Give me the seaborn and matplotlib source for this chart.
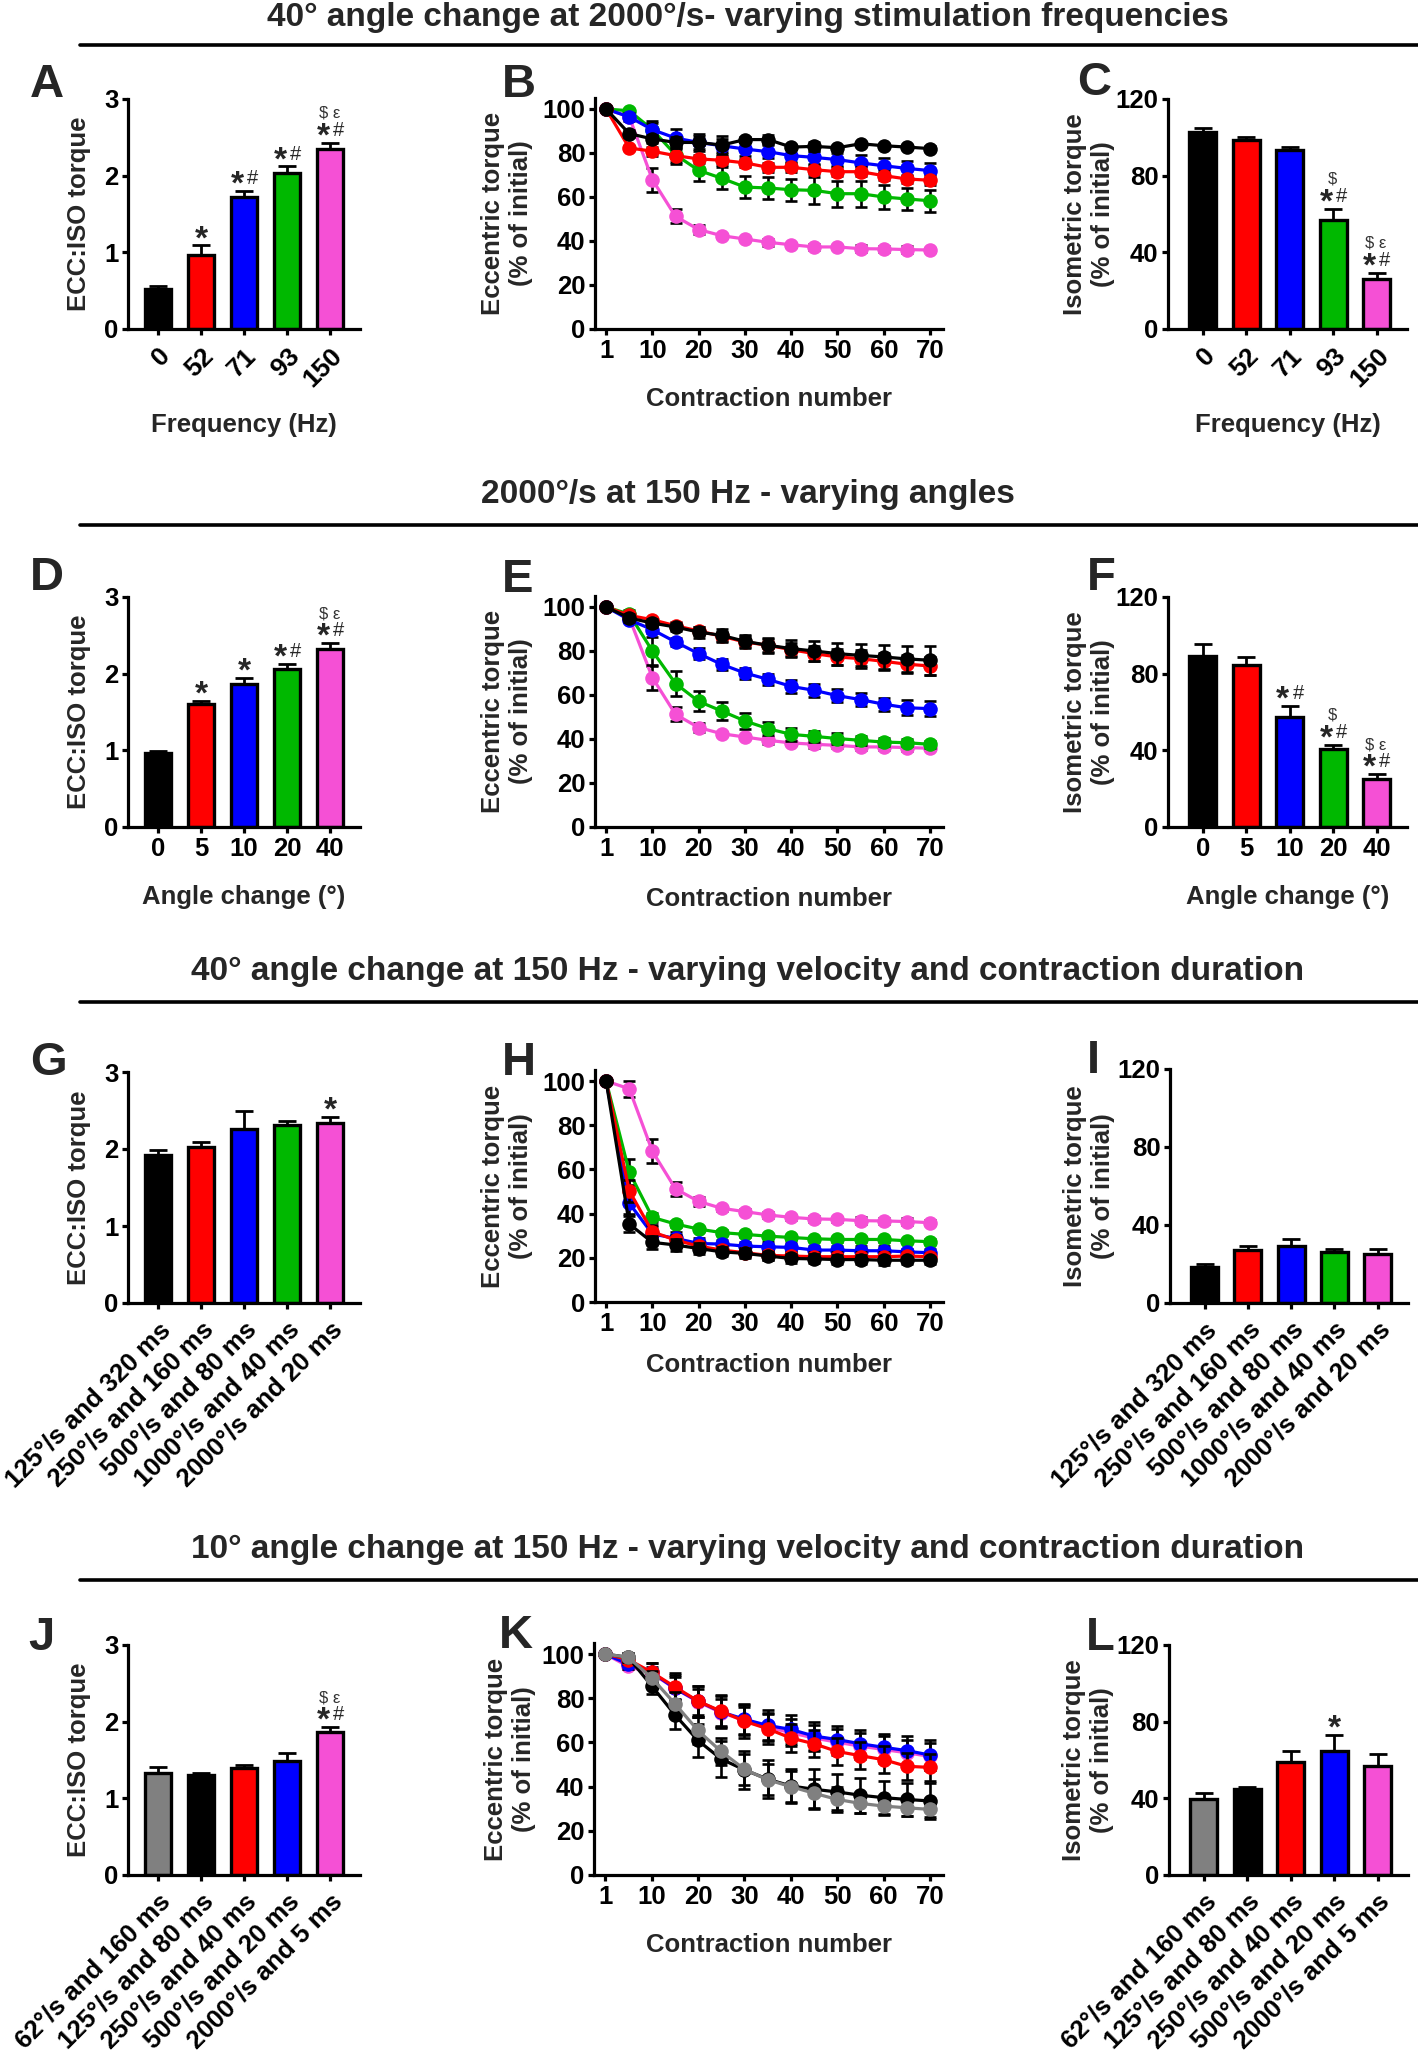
import numpy as np
import pandas as pd
import seaborn as sns
import matplotlib
matplotlib.use("Agg")
import matplotlib.pyplot as plt
from matplotlib.lines import Line2D

# figure size in pixels (saved at 100 dpi)
W, H = 1418, 2052

BLACK = "#000000"
RED = "#ff0000"
BLUE = "#0000ff"
GREEN = "#00b800"
PINK = "#f550d5"
GREY = "#808080"

# ---------------- data ----------------
freq_labels = ["0", "52", "71", "93", "150"]
angle_labels = ["0", "5", "10", "20", "40"]
vel_labels_g = ["125°/s and 320 ms", "250°/s and 160 ms", "500°/s and 80 ms",
                "1000°/s and 40 ms", "2000°/s and 20 ms"]
vel_labels_j = ["62°/s and 160 ms", "125°/s and 80 ms", "250°/s and 40 ms",
                "500°/s and 20 ms", "2000°/s and 5 ms"]
colors5 = [BLACK, RED, BLUE, GREEN, PINK]
colors_j = [GREY, BLACK, RED, BLUE, PINK]

# contraction positions (first point is contraction 1, drawn at 0)
contraction_pos = [0, 5, 10, 15, 20, 25, 30, 35, 40, 45, 50, 55, 60, 65, 70]
contraction_ticks = [0, 10, 20, 30, 40, 50, 60, 70]
contraction_ticklabels = ["1", "10", "20", "30", "40", "50", "60", "70"]

# A - ECC:ISO, stimulation frequency
a_ratio = [0.52, 0.96, 1.72, 2.03, 2.35]
a_err = [0.045, 0.13, 0.08, 0.09, 0.08]
a_sig = ["", "*", "*#", "*#", "*#"]
a_sig2 = ["", "", "", "", "$ ε"]

# B - eccentric torque, stimulation frequency
b_black = [100, 88.8, 86.4, 84.8, 84.8, 83.6, 86.1, 86.1, 82.7, 83.0, 82.4, 84.2, 83.3, 82.7, 82.0]
b_black_err = [0, 1.5, 2, 2.5, 3, 4, 1, 2, 1, 2, 1, 1, 1, 1, 1]
b_red = [100, 82.3, 80.8, 78.8, 77.3, 76.7, 75.5, 73.5, 73.5, 72.4, 71.5, 71.5, 69.7, 68.2, 67.6]
b_red_err = [0, 1, 2, 3, 2, 2, 2, 2, 2, 2, 2, 2, 2, 2, 2]
b_blue = [100, 96.4, 90.6, 86.8, 84.8, 83.3, 81.8, 80.6, 78.8, 78.0, 77.0, 75.5, 74.2, 73.0, 72.0]
b_blue_err = [0, 2, 3, 4, 4, 3, 3, 3, 3, 3, 3, 3.5, 3.5, 3.5, 3.5]
b_green = [100, 99.2, 90.6, 79.2, 72.1, 68.5, 64.5, 64.1, 63.3, 63.0, 61.5, 61.5, 60.0, 59.1, 58.3]
b_green_err = [0, 1, 4, 4, 5, 5, 5, 5, 5, 6, 6, 6, 5.5, 5, 5]
b_pink = [100, 96.5, 67.9, 51.2, 45.2, 42.4, 40.9, 39.4, 38.3, 37.3, 37.3, 36.5, 36.4, 36.1, 35.9]
b_pink_err = [0, 1, 5.5, 3.2, 2, 1, 1, 1.5, 1, 1.5, 1, 1.5, 1.5, 1.5, 1]

# C - isometric torque, stimulation frequency
c_iso = [103.0, 98.8, 93.6, 56.7, 26.3]
c_err = [1.7, 1.5, 1.2, 6.1, 3.1]
c_sig = ["", "", "", "*#", "*#"]
c_sig2 = ["", "", "", "$", "$ ε"]

# D - ECC:ISO, angle change
d_ratio = [0.97, 1.60, 1.87, 2.06, 2.32]
d_err = [0.02, 0.04, 0.07, 0.07, 0.08]
d_sig = ["", "*", "*", "*#", "*#"]
d_sig2 = ["", "", "", "", "$ ε"]

# E - eccentric torque, angle change
e_black = [100, 95.0, 92.7, 90.9, 88.6, 87.1, 84.4, 82.6, 81.1, 80.0, 78.8, 78.0, 77.3, 76.4, 75.8]
e_black_err = [0, 2, 2, 2, 2.5, 3, 3, 3.5, 4, 4.5, 5, 5, 5.5, 6, 6.5]
e_red = [100, 96.2, 94.2, 91.5, 89.1, 86.7, 84.1, 82.6, 80.6, 78.8, 77.3, 76.5, 75.3, 74.0, 73.2]
e_red_err = [0, 1, 1, 1.5, 2, 2, 2.5, 3, 3, 3.5, 3.5, 4, 4, 4, 4]
e_blue = [100, 94.2, 89.7, 84.1, 78.8, 73.9, 70.0, 67.1, 63.9, 62.1, 59.7, 57.9, 55.8, 54.2, 53.8]
e_blue_err = [0, 1, 1.5, 2, 2.5, 2.5, 2.5, 2.5, 3, 3, 3, 3, 3, 3.5, 3.5]
e_green = [100, 96.8, 80.0, 65.2, 57.1, 52.7, 48.2, 44.7, 42.1, 41.2, 40.2, 39.4, 38.6, 38.3, 37.6]
e_green_err = [0, 2, 6.5, 5.5, 4.5, 4, 3.5, 3, 3, 2.5, 2.5, 2, 2, 1.5, 1.5]
e_pink = [100, 95.2, 67.9, 51.2, 45.2, 42.4, 40.9, 39.4, 38.2, 37.6, 37.1, 36.4, 36.4, 36.1, 35.8]
e_pink_err = [0, 1, 5.5, 3.2, 2, 1, 1, 1.5, 1, 1.5, 1, 1.5, 1.5, 1.5, 1]

# F - isometric torque, angle change
f_iso = [89.3, 84.4, 57.2, 40.5, 25.1]
f_err = [6.3, 4.2, 5.9, 2.4, 2.5]
f_sig = ["", "", "*#", "*#", "*#"]
f_sig2 = ["", "", "", "$", "$ ε"]

# G - ECC:ISO, velocity (40 deg)
g_ratio = [1.92, 2.03, 2.26, 2.31, 2.34]
g_err = [0.07, 0.06, 0.24, 0.05, 0.08]
g_sig = ["", "", "", "", "*"]
g_sig2 = ["", "", "", "", ""]

# H - eccentric torque, velocity (40 deg)
h_pink = [100, 96.5, 68.2, 51.2, 45.5, 42.4, 40.9, 39.4, 38.3, 37.6, 37.4, 36.8, 36.7, 36.4, 35.9]
h_pink_err = [0, 3.5, 5.5, 3, 2, 1, 1, 1.5, 1, 1.5, 1, 1.5, 1.5, 1.5, 1]
h_green = [100, 58.8, 38.3, 35.3, 33.0, 31.4, 30.6, 29.8, 29.2, 28.6, 28.3, 28.3, 28.3, 27.7, 27.3]
h_green_err = [0, 6, 2, 1.5, 1, 1, 1, 1, 1, 1, 1, 1, 1, 1, 1]
h_blue = [100, 44.7, 30.8, 28.8, 26.5, 26.2, 25.3, 25.0, 24.7, 23.5, 23.5, 23.2, 23.2, 22.7, 22.3]
h_blue_err = [0, 5, 3, 3, 2.5, 2, 2, 2, 2, 2, 2, 2, 2, 1.5, 1.5]
h_red = [100, 50.3, 31.8, 28.0, 25.3, 23.5, 22.3, 21.1, 20.8, 20.5, 20.5, 20.5, 20.5, 20.8, 20.5]
h_red_err = [0, 5, 3, 2.5, 2, 2, 2, 2, 2, 2, 2, 2, 2, 2, 1.5]
h_black = [100, 35.3, 27.0, 25.8, 24.2, 22.7, 22.0, 20.8, 19.7, 19.5, 19.2, 19.2, 18.9, 18.9, 18.9]
h_black_err = [0, 3.5, 3, 2.5, 2.5, 2, 2, 2, 2, 2, 2, 2, 2, 1.5, 1.5]

# I - isometric torque, velocity (40 deg)
i_iso = [18.5, 27.1, 29.1, 26.1, 25.0]
i_err = [1.7, 2.0, 3.5, 1.7, 2.6]

# J - ECC:ISO, velocity (10 deg)
j_ratio = [1.33, 1.30, 1.40, 1.49, 1.87]
j_err = [0.08, 0.03, 0.03, 0.10, 0.06]
j_sig = ["", "", "", "", "*#"]
j_sig2 = ["", "", "", "", "$ ε"]

# K - eccentric torque, velocity (10 deg)
k_pink = [100, 94.4, 91.3, 84.5, 78.4, 73.5, 70.0, 67.0, 64.4, 62.0, 60.1, 58.3, 56.8, 55.3, 53.7]
k_pink_err = [0, 1, 3, 5, 6, 6, 6, 6, 6, 6, 6, 6, 6, 6, 6]
k_blue = [100, 95.4, 91.8, 84.5, 78.7, 73.8, 70.5, 67.7, 65.9, 62.9, 61.3, 59.4, 57.8, 56.3, 54.3]
k_blue_err = [0, 2, 4, 6, 7, 7, 7, 7, 6.5, 6.5, 6, 6, 6, 6.5, 7]
k_red = [100, 97.5, 91.8, 85.2, 78.7, 74.1, 69.6, 66.2, 62.0, 59.4, 55.9, 54.0, 52.2, 49.2, 48.7]
k_red_err = [0, 2, 4, 6, 7, 7.5, 7.5, 7, 6.5, 6, 6, 6, 6, 6, 6]
k_black = [100, 98.5, 85.7, 72.6, 60.9, 52.5, 47.6, 43.4, 40.3, 38.8, 37.6, 36.1, 35.0, 34.2, 33.5]
k_black_err = [0, 2, 4, 6.5, 7.5, 8, 8.5, 8.5, 7.5, 9, 8, 8, 7.5, 7.5, 8]
k_grey = [100, 98.5, 89.3, 77.6, 65.4, 55.9, 47.9, 43.1, 40.0, 37.0, 34.2, 32.4, 31.2, 30.4, 29.7]
k_grey_err = [0, 2, 3, 5, 6, 6, 7, 7, 7, 6.5, 5.5, 4.5, 4, 3.5, 3.5]

# L - isometric torque, velocity (10 deg)
l_iso = [39.5, 44.7, 59.1, 64.9, 56.9]
l_err = [3.5, 1.4, 5.8, 8.0, 6.2]
l_sig = ["", "", "", "*", ""]
l_sig2 = ["", "", "", "", ""]

section_titles = [
    "40° angle change at 2000°/s- varying stimulation frequencies",
    "2000°/s at 150 Hz - varying angles",
    "40° angle change at 150 Hz - varying velocity and contraction duration",
    "10° angle change at 150 Hz - varying velocity and contraction duration",
]

# ---------------- style ----------------
sns.set_theme(style="ticks")
plt.rcParams["font.family"] = ["Liberation Sans", "DejaVu Sans"]
plt.rcParams["font.weight"] = "bold"
plt.rcParams["axes.labelweight"] = "bold"
plt.rcParams["axes.labelsize"] = 18.5
plt.rcParams["xtick.labelsize"] = 18.5
plt.rcParams["ytick.labelsize"] = 18.5

ECC_LABEL = "ECC:ISO torque"
ISO_LABEL = "Isometric torque\n(% of initial)"
ECC_TORQUE_LABEL = "Eccentric torque\n(% of initial)"


def px_rect(l, t, r, b):
    return [l / W, 1 - b / H, (r - l) / W, (b - t) / H]


def style_axes(ax):
    sns.despine(ax=ax)
    for s in ("left", "bottom"):
        ax.spines[s].set_linewidth(2.3)
        ax.spines[s].set_color("black")
    ax.tick_params(width=2.3, length=4.5, pad=2.5, colors="black")


def add_sig(ax, tops, sig, sig2):
    for i, (top, s1, s2) in enumerate(zip(tops, sig, sig2)):
        if s1 == "*":
            ax.annotate("*", (i, top), xytext=(0, -2), textcoords="offset points",
                        ha="center", va="baseline", fontsize=24, fontweight="bold")
        elif s1 == "*#":
            ax.annotate("*", (i, top), xytext=(-5, -2), textcoords="offset points",
                        ha="center", va="baseline", fontsize=24, fontweight="bold")
            ax.annotate("#", (i, top), xytext=(6, 5), textcoords="offset points",
                        ha="center", va="baseline", fontsize=14.5, fontweight="normal")
        if s2:
            ax.annotate(s2, (i, top), xytext=(-0.5, 18), textcoords="offset points",
                        ha="center", va="baseline", fontsize=12, fontweight="normal",
                        color="#333333")


def bar_panel(rect, labels, values, errors, colors, ymax, yticks, ylabel, ylab_x,
              xlabel=None, xlab_y=None, rot=0, sig=None, sig2=None, xleft=-0.7, xsize=19):
    ax = fig.add_axes(px_rect(*rect))
    sns.barplot(x=labels, y=values, hue=labels, palette=colors, legend=False,
                saturation=1, width=0.62, edgecolor="black", linewidth=2.4, ax=ax)
    ax.errorbar(range(len(values)), values, yerr=[np.zeros(len(values)), errors],
                fmt="none", ecolor="black", elinewidth=2, capsize=6.5, capthick=2, zorder=0.5)
    ax.set_ylim(0, ymax)
    ax.set_yticks(yticks)
    ax.set_xlim(xleft, 4.7)
    style_axes(ax)
    if rot:
        ax.set_xticks(range(len(labels)), labels, rotation=rot, ha="right",
                      va="top", rotation_mode="anchor", fontsize=xsize)
        ax.tick_params(axis="x", pad=6)
    else:
        ax.set_xticks(range(len(labels)), labels)
    ax.set_ylabel(ylabel)
    ax.yaxis.set_label_coords(ylab_x, 0.5)
    ax.set_xlabel(xlabel if xlabel else "")
    if xlabel:
        ax.xaxis.set_label_coords(0.5, xlab_y)
    if sig:
        tops = [v + e for v, e in zip(values, errors)]
        add_sig(ax, tops, sig, sig2)
    return ax


def line_panel(rect, series, ylab_x, xlab_y):
    ax = fig.add_axes(px_rect(*rect))
    for vals, errs, col in series:
        ax.errorbar(contraction_pos, vals, yerr=errs, fmt="none", ecolor="black",
                    elinewidth=1.9, capsize=4, capthick=1.9)
        sns.lineplot(x=contraction_pos, y=vals, color=col, marker="o", markersize=10.5,
                     markeredgewidth=0, linewidth=2.3, ax=ax)
    ax.set_xlim(-2.4, 72.8)
    ax.set_ylim(0, 105)
    ax.set_yticks([0, 20, 40, 60, 80, 100])
    ax.set_xticks(contraction_ticks, contraction_ticklabels)
    ax.set_ylabel(ECC_TORQUE_LABEL)
    ax.yaxis.set_label_coords(ylab_x, 0.5)
    ax.set_xlabel("Contraction number")
    ax.xaxis.set_label_coords(0.5, xlab_y)
    style_axes(ax)
    return ax


fig = plt.figure(figsize=(W / 100, H / 100), dpi=100)

# section titles and rules
title_base = [26, 503, 980, 1558]
rule_y = [45, 525, 1002, 1580]
for t, yb, yr in zip(section_titles, title_base, rule_y):
    fig.text(748 / W, 1 - yb / H, t, ha="center", va="baseline", fontsize=24, fontweight="bold")
    fig.add_artist(Line2D([80 / W, 1], [1 - yr / H, 1 - yr / H], transform=fig.transFigure,
                          color="black", linewidth=2.6))

# panel letters
letters = [("A", 30, 97), ("B", 502, 97), ("C", 1077, 95),
           ("D", 30, 590), ("E", 502, 592), ("F", 1087, 590),
           ("G", 30, 1075), ("H", 502, 1075), ("I", 1087, 1073),
           ("J", 28, 1650), ("K", 499, 1648), ("L", 1086, 1650)]
for s, x, y in letters:
    fig.text(x / W, 1 - y / H, s, ha="left", va="baseline", fontsize=34, fontweight="bold")

# row 1
bar_panel((128, 99, 360, 329), freq_labels, a_ratio, a_err, colors5, 3, [0, 1, 2, 3],
          ECC_LABEL, -0.16, "Frequency (Hz)", -0.365, rot=45, sig=a_sig, sig2=a_sig2)
line_panel((595, 98, 943, 329),
           [(b_pink, b_pink_err, PINK), (b_green, b_green_err, GREEN),
            (b_blue, b_blue_err, BLUE), (b_red, b_red_err, RED),
            (b_black, b_black_err, BLACK)], -0.178, -0.251)
bar_panel((1168, 99, 1407, 329), freq_labels, c_iso, c_err, colors5, 120, [0, 40, 80, 120],
          ISO_LABEL, -0.222, "Frequency (Hz)", -0.365, rot=45, sig=c_sig, sig2=c_sig2,
          xleft=-0.8)

# row 2
bar_panel((128, 597, 360, 827), angle_labels, d_ratio, d_err, colors5, 3, [0, 1, 2, 3],
          ECC_LABEL, -0.16, "Angle change (°)", -0.252, sig=d_sig, sig2=d_sig2)
line_panel((595, 596, 943, 827),
           [(e_pink, e_pink_err, PINK), (e_green, e_green_err, GREEN),
            (e_blue, e_blue_err, BLUE), (e_red, e_red_err, RED),
            (e_black, e_black_err, BLACK)], -0.178, -0.26)
bar_panel((1168, 597, 1407, 827), angle_labels, f_iso, f_err, colors5, 120, [0, 40, 80, 120],
          ISO_LABEL, -0.222, "Angle change (°)", -0.252, sig=f_sig, sig2=f_sig2, xleft=-0.8)

# row 3
bar_panel((128, 1072, 360, 1303), vel_labels_g, g_ratio, g_err, colors5, 3, [0, 1, 2, 3],
          ECC_LABEL, -0.16, rot=45, sig=g_sig, sig2=g_sig2, xsize=18.5)
line_panel((595, 1070, 943, 1302),
           [(h_pink, h_pink_err, PINK), (h_green, h_green_err, GREEN),
            (h_blue, h_blue_err, BLUE), (h_red, h_red_err, RED),
            (h_black, h_black_err, BLACK)], -0.178, -0.22)
bar_panel((1170, 1069, 1408, 1303), vel_labels_g, i_iso, i_err, colors5, 120, [0, 40, 80, 120],
          ISO_LABEL, -0.231, rot=45, xleft=-0.8, xsize=18.5)

# row 4
bar_panel((128, 1645, 360, 1875), vel_labels_j, j_ratio, j_err, colors_j, 3, [0, 1, 2, 3],
          ECC_LABEL, -0.16, rot=45, sig=j_sig, sig2=j_sig2, xsize=18.5)
line_panel((594, 1643, 943, 1875),
           [(k_pink, k_pink_err, PINK), (k_blue, k_blue_err, BLUE),
            (k_red, k_red_err, RED), (k_black, k_black_err, BLACK),
            (k_grey, k_grey_err, GREY)], -0.166, -0.25)
bar_panel((1169, 1645, 1408, 1875), vel_labels_j, l_iso, l_err, colors_j, 120, [0, 40, 80, 120],
          ISO_LABEL, -0.23, rot=45, sig=l_sig, sig2=l_sig2, xleft=-0.8, xsize=18.5)

fig.savefig("out.png", dpi=100)
